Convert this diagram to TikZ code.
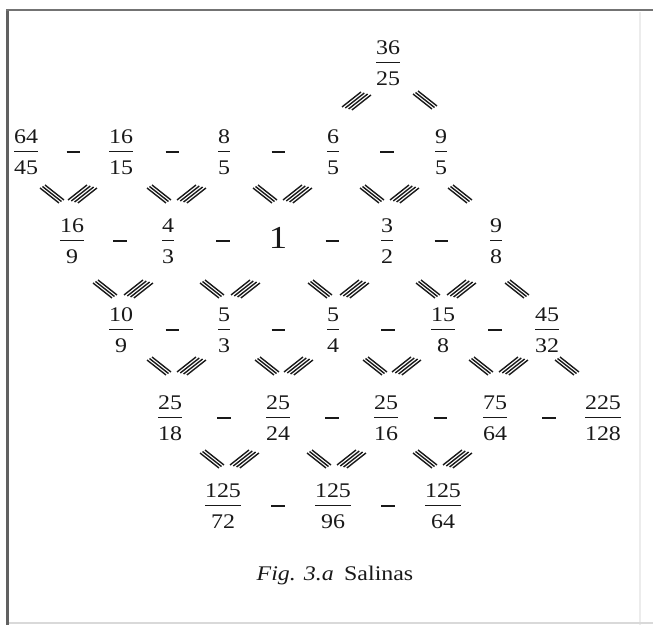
\documentclass[tikz,border=0pt]{standalone}
\usepackage{amsmath}
\usepackage{fontspec}
\setmainfont{Liberation Serif}[FakeStretch=1.15]
\definecolor{ink}{gray}{0.1}
\newcommand\fr[2]{$\genfrac{}{}{0.65pt}{0}{\text{#1}}{\rule{0pt}{9.07pt}\text{#2}}$}
\tikzset{
  frac/.style={inner sep=0pt, text=ink},
  dashnode/.style={inner sep=0pt, text=ink},
  stroke/.style={draw=ink, line width=0.7pt},
  tri/.pic={\foreach \i in {0,1,2} \draw[stroke] (2.5*\i,3-1.5*\i) -- ++(19,15);},
  quad/.pic={\foreach \i in {0,1,2,3} \draw[stroke] (3.3*\i,15+\i) -- ++(19,-15);},
}
\newcommand\mdash{\rule{6.8pt}{0.9pt}}
\begin{document}
\begin{tikzpicture}[x=0.5pt,y=-0.5pt,font=\fontsize{10.4}{12}\selectfont]
\useasboundingbox (0,0) rectangle (653,625);
% frame
\draw[line width=1.2pt, color={gray!15}] (640,12) -- (640,625);
\draw[line width=1.2pt, color={gray!30}] (7,623) -- (653,623);
\draw[line width=1.5pt, color={black!62}] (7,9) -- (7,625);
\draw[line width=1.3pt, color={black!55}] (6,10) -- (653,10);
% row 0
\node[frac] (a0) at (388,63) {\fr{36}{25}};
% row 1
\node[frac] (b1) at (26,152) {\fr{64}{45}};
\node[frac] (b2) at (121,152) {\fr{16}{15}};
\node[frac] (b3) at (224,152) {\fr{8}{5}};
\node[frac] (b4) at (333,152) {\fr{6}{5}};
\node[frac] (b5) at (441,152) {\fr{9}{5}};
% row 2
\node[frac] (c1) at (72,241) {\fr{16}{9}};
\node[frac] (c2) at (168,241) {\fr{4}{3}};
\node[frac] (c3) at (278,238) {\fontsize{16}{16}\selectfont 1};
\node[frac] (c4) at (387,241) {\fr{3}{2}};
\node[frac] (c5) at (496,241) {\fr{9}{8}};
% row 3
\node[frac] (d1) at (121,330) {\fr{10}{9}};
\node[frac] (d2) at (224,330) {\fr{5}{3}};
\node[frac] (d3) at (333,330) {\fr{5}{4}};
\node[frac] (d4) at (443,330) {\fr{15}{8}};
\node[frac] (d5) at (547,330) {\fr{45}{32}};
% row 4
\node[frac] (e1) at (170,418) {\fr{25}{18}};
\node[frac] (e2) at (278,418) {\fr{25}{24}};
\node[frac] (e3) at (386,418) {\fr{25}{16}};
\node[frac] (e4) at (495,418) {\fr{75}{64}};
\node[frac] (e5) at (603,418) {\fr{225}{128}};
% row 5
\node[frac] (f1) at (223,506) {\fr{125}{72}};
\node[frac] (f2) at (333,506) {\fr{125}{96}};
\node[frac] (f3) at (443,506) {\fr{125}{64}};
% dashes between neighbours
\foreach \r in {b,d,e}{
  \foreach \i/\j in {1/2,2/3,3/4,4/5}{
    \path (\r\i.center) -- node[dashnode]{\mdash} (\r\j.center);
  }
}
\path (c1.center) -- node[dashnode]{\mdash} (c2.center);
\path (c2.center) -- node[dashnode]{\mdash} (c3.center |- c2.center);
\path (c3.center |- c2.center) -- node[dashnode]{\mdash} (c4.center);
\path (c4.center) -- node[dashnode]{\mdash} (c5.center);
\path (f1.center) -- node[dashnode]{\mdash} (f2.center);
\path (f2.center) -- node[dashnode]{\mdash} (f3.center);
% stroke bundles
\pic at (342,92) {quad};
\pic at (413,91) {tri};
% row 1 -> 2
\pic at (40,185) {tri};  \pic at (68,185) {quad};
\pic at (147,185) {tri}; \pic at (177,185) {quad};
\pic at (253,185) {tri}; \pic at (283,185) {quad};
\pic at (360,185) {tri}; \pic at (390,185) {quad};
\pic at (448,185) {tri};
% row 2 -> 3
\pic at (93,280) {tri};  \pic at (124,280) {quad};
\pic at (200,280) {tri}; \pic at (231,280) {quad};
\pic at (308,280) {tri}; \pic at (340,280) {quad};
\pic at (416,280) {tri}; \pic at (447,280) {quad};
\pic at (505,280) {tri};
% row 3 -> 4
\pic at (147,357) {tri}; \pic at (177,357) {quad};
\pic at (255,357) {tri}; \pic at (284,357) {quad};
\pic at (363,357) {tri}; \pic at (392,357) {quad};
\pic at (469,357) {tri}; \pic at (499,357) {quad};
\pic at (555,357) {tri};
% row 4 -> 5
\pic at (200,450) {tri}; \pic at (230,450) {quad};
\pic at (307,450) {tri}; \pic at (337,450) {quad};
\pic at (413,450) {tri}; \pic at (443,450) {quad};
% caption
\node[text=ink] (cap) at (335,575) {\textit{Fig. 3.a}\enspace Salinas};
\end{tikzpicture}
\end{document}
